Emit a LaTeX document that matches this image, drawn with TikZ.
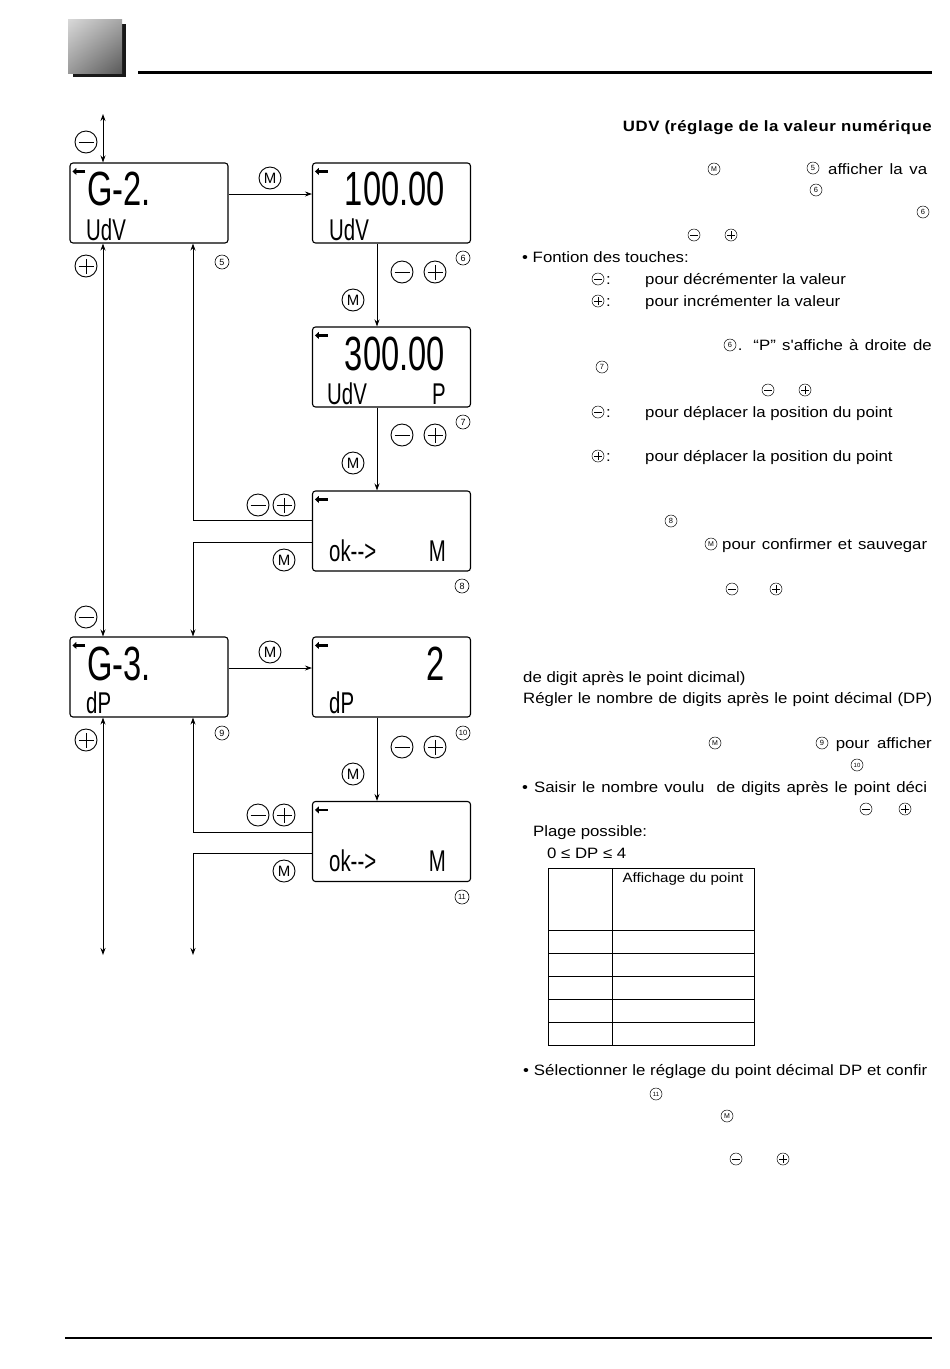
\documentclass[tikz,border=0pt]{standalone}
\usepackage{fontspec}
\setmainfont{Liberation Sans}
\newfontfamily\bodyfont{Liberation Sans}[FakeStretch=1.12]
\usetikzlibrary{arrows.meta,shadings}
\tikzset{
  lcd/.style={draw, line width=1.1pt, rounded corners=3pt, minimum width=158pt, minimum height=80pt, inner sep=0pt},
  conn/.style={line width=0.9pt},
  tip/.style={-{Stealth[length=7pt,width=5pt]}},
  both/.style={{Stealth[length=7pt,width=5pt]}-{Stealth[length=7pt,width=5pt]}},
  bigc/.style={circle, draw, line width=0.9pt, minimum size=22pt, inner sep=0pt},
  bigM/.style={bigc, font=\fontsize{15}{15}\selectfont},
  bigminus/.style={bigc, path picture={\draw[line width=0.9pt] ([xshift=-7.5pt]path picture bounding box.center) -- ([xshift=7.5pt]path picture bounding box.center);}},
  bigplus/.style={bigminus, path picture={\draw[line width=0.9pt] ([xshift=-7.5pt]path picture bounding box.center) -- ([xshift=7.5pt]path picture bounding box.center) ([yshift=-7.5pt]path picture bounding box.center) -- ([yshift=7.5pt]path picture bounding box.center);}},
  cnum/.style={circle, draw, line width=0.6pt, minimum size=14pt, inner sep=0pt, font=\fontsize{9}{9}\selectfont},
  snum/.style={circle, draw, line width=0.5pt, minimum size=12pt, inner sep=0pt, font=\fontsize{7.5}{7.5}\selectfont},
  sM/.style={snum},
  sminus/.style={circle, draw, line width=0.5pt, minimum size=12pt, inner sep=0pt, path picture={\draw[line width=0.5pt] ([xshift=-4pt]path picture bounding box.center) -- ([xshift=4pt]path picture bounding box.center);}},
  splus/.style={sminus, path picture={\draw[line width=0.5pt] ([xshift=-4pt]path picture bounding box.center) -- ([xshift=4pt]path picture bounding box.center) ([yshift=-4pt]path picture bounding box.center) -- ([yshift=4pt]path picture bounding box.center);}},
  txt/.style={inner sep=0pt, anchor=base west, font=\bodyfont\fontsize{15}{18}\selectfont},
  txtr/.style={txt, anchor=base east},
  lcdbig/.style={inner sep=0pt, font=\fontsize{48}{48}\selectfont},
  lcdsmall/.style={inner sep=0pt, font=\fontsize{30}{30}\selectfont},
  icon/.style={line width=2.4pt, -{Triangle[length=4pt,width=7pt]}},
}
\newcommand{\lcdt}[1]{\scalebox{0.68}[1]{#1}}
\begin{document}
\begin{tikzpicture}[x=1pt,y=-1pt]
\useasboundingbox (0,0) rectangle (950,1369);
\fill[white] (0,0) rectangle (950,1369);
% header
\fill[black!90] (73,24) rectangle (126,77);
\shade[upper left=black!15, upper right=black!35, lower left=black!40, lower right=black!65] (68,19) rectangle (122,73);
\draw[line width=3pt] (138,72) -- (932,72);
\draw[line width=2.6pt] (65,1338) -- (932,1338);

% LCD boxes
\node[lcd] (g2) at (149,203) {};
\node[lcd] (v1) at (391.5,203) {};
\node[lcd] (v3) at (391.5,367) {};
\node[lcd] (ok1) at (391.5,531) {};
\node[lcd] (g3) at (149,677) {};
\node[lcd] (d2) at (391.5,677) {};
\node[lcd] (ok2) at (391.5,841.5) {};

% icons
\foreach \b in {g2,v1,v3,ok1,g3,d2,ok2}
  \draw[icon] ([shift={(16,9)}]\b.north west) -- ([shift={(3,9)}]\b.north west);

% LCD texts
\node[lcdbig, anchor=base west] at (87,205) {\lcdt{G-2.}};
\node[lcdsmall, anchor=base west] at (86,240) {\lcdt{UdV}};
\node[lcdbig, anchor=base east] at (445,205) {\lcdt{100.00}};
\node[lcdsmall, anchor=base west] at (329,240) {\lcdt{UdV}};
\node[lcdbig, anchor=base east] at (445,370) {\lcdt{300.00}};
\node[lcdsmall, anchor=base west] at (327,404) {\lcdt{UdV}};
\node[lcdsmall, anchor=base east] at (446,404) {\lcdt{P}};
\node[lcdsmall, anchor=base west] at (329,561) {\lcdt{ok-{}-{}>}};
\node[lcdsmall, anchor=base east] at (446,561) {\lcdt{M}};
\node[lcdbig, anchor=base west] at (87,680) {\lcdt{G-3.}};
\node[lcdsmall, anchor=base west] at (86,713) {\lcdt{dP}};
\node[lcdbig, anchor=base east] at (445,680) {\lcdt{2}};
\node[lcdsmall, anchor=base west] at (329,713) {\lcdt{dP}};
\node[lcdsmall, anchor=base west] at (329,871) {\lcdt{ok-{}-{}>}};
\node[lcdsmall, anchor=base east] at (446,871) {\lcdt{M}};

% free ends
\coordinate (topend) at (103,114);
\coordinate (bot1) at (103,955);
\coordinate (bot2) at (193,955);
\coordinate (colA) at (193,0);
\coordinate (colB) at (103,0);
\coordinate (colC) at (377,0);

% connectors
\draw[conn,both] (topend) -- (g2.north -| colB);
\draw[conn,both] (g2.south -| colB) -- (g3.north -| colB);
\draw[conn,both] (g3.south -| colB) -- (bot1);
\draw[conn,tip] ([yshift=9pt]g2.east) -- ([yshift=9pt]v1.west);
\draw[conn,tip] ([yshift=9pt]g3.east) -- ([yshift=9pt]d2.west);
\draw[conn,tip] (v1.south -| colC) -- (v3.north -| colC);
\draw[conn,tip] (v3.south -| colC) -- (ok1.north -| colC);
\draw[conn,tip] (d2.south -| colC) -- (ok2.north -| colC);
\draw[conn,tip] ([yshift=11pt]ok1.west) -| (g2.south -| colA);
\draw[conn,tip] ([yshift=-11pt]ok1.west) -| (g3.north -| colA);
\draw[conn,tip] ([yshift=9.5pt]ok2.west) -| (g3.south -| colA);
\draw[conn,tip] ([yshift=-11.5pt]ok2.west) -| (bot2);

% diagram labels
\node[bigminus] (l1) at (86,142) {};
\node[bigplus] (l2) at (86,266) {};
\node[bigM] (l3) at (270,178) {M};
\node[cnum] (l4) at (222,262) {5};
\node[bigminus] (l5) at (402,272) {};
\node[bigplus] (l6) at (435,272) {};
\node[cnum] (l7) at (463,258) {6};
\node[bigM] (l8) at (353,300) {M};
\node[bigminus] (l9) at (402,435) {};
\node[bigplus] (l10) at (435,435) {};
\node[cnum] (l11) at (463,422) {7};
\node[bigM] (l12) at (353,463) {M};
\node[bigminus] (l13) at (258,505) {};
\node[bigplus] (l14) at (284,505) {};
\node[bigM] (l15) at (284,560) {M};
\node[cnum] (l16) at (462,586) {8};
\node[bigminus] (l17) at (86,617) {};
\node[bigplus] (l18) at (86,740) {};
\node[bigM] (l19) at (270,652) {M};
\node[cnum] (l20) at (222,733) {9};
\node[bigminus] (l21) at (402,747) {};
\node[bigplus] (l22) at (435,747) {};
\node[cnum, font=\fontsize{7.5}{7.5}\selectfont] (l23) at (463,733) {10};
\node[bigM] (l24) at (353,774) {M};
\node[bigminus] (l25) at (258,815) {};
\node[bigplus] (l26) at (284,815) {};
\node[bigM] (l27) at (284,871) {M};
\node[cnum, font=\fontsize{7.5}{7.5}\selectfont] (l28) at (462,897) {11};

% right text
\node[txtr, font=\bodyfont\fontsize{15}{18}\selectfont\bfseries] (t1) at (932,131) {\makebox[309pt][s]{U\kern0.6pt D\kern0.6pt V (r\kern0.6pt é\kern0.6pt g\kern0.6pt l\kern0.6pt a\kern0.6pt g\kern0.6pt e d\kern0.6pt e l\kern0.6pt a v\kern0.6pt a\kern0.6pt l\kern0.6pt e\kern0.6pt u\kern0.6pt r n\kern0.6pt u\kern0.6pt m\kern0.6pt é\kern0.6pt r\kern0.6pt i\kern0.6pt q\kern0.6pt u\kern0.6pt e}};
\node[sM, font=\fontsize{7}{7}\selectfont] (s1) at (714,169) {M};
\node[snum] (s2) at (813,168) {5};
\node[txt] (t2) at (828,174) {\makebox[99pt][s]{afficher la va}};
\node[snum] (s3) at (816,190) {6};
\node[snum] (s4) at (923,212) {6};
\node[sminus] (s5) at (694,235) {};
\node[splus] (s6) at (731,235) {};
\node[txt] (t3) at (522,262) {• Fontion des touches:};
\node[sminus] (s7) at (598,279) {};
\node[txt] (t4) at (606,284) {:};
\node[txt] (t5) at (645,284) {pour décrémenter la valeur};
\node[splus] (s8) at (598,301) {};
\node[txt] (t6) at (606,306) {:};
\node[txt] (t7) at (645,306) {pour incrémenter la valeur};
\node[snum] (s9) at (730,345) {6};
\node[txtr] (t8) at (932,350) {\makebox[194pt][s]{. “P” s'affiche à droite de}};
\node[snum] (s10) at (602,367) {7};
\node[sminus] (s11) at (768,390) {};
\node[splus] (s12) at (805,390) {};
\node[sminus] (s13) at (598,412) {};
\node[txt] (t9) at (606,417) {:};
\node[txt] (t10) at (645,417) {pour déplacer la position du point};
\node[splus] (s14) at (598,456) {};
\node[txt] (t11) at (606,461) {:};
\node[txt] (t12) at (645,461) {pour déplacer la position du point};
\node[snum] (s15) at (671,521) {8};
\node[sM, font=\fontsize{7}{7}\selectfont] (s16) at (711,544) {M};
\node[txt] (t13) at (722,549) {\makebox[205pt][s]{pour confirmer et sauvegar}};
\node[sminus] (s17) at (732,589) {};
\node[splus] (s18) at (776,589) {};
\node[txt] (t14) at (523,682) {de digit après le point dicimal)};
\node[txt] (t15) at (523,703) {\makebox[409pt][s]{Régler le nombre de digits après le point décimal (DP)}};
\node[sM, font=\fontsize{7}{7}\selectfont] (s19) at (715,743) {M};
\node[snum] (s20) at (822,743) {9};
\node[txtr] (t16) at (932,748) {\makebox[96pt][s]{pour afficher}};
\node[snum, font=\fontsize{6}{6}\selectfont] (s21) at (857,765) {10};
\node[txt] (t17) at (522,792) {\makebox[405pt][s]{• Saisir le nombre voulu \ de digits après le point déci}};
\node[sminus] (s22) at (866,809) {};
\node[splus] (s23) at (905,809) {};
\node[txt] (t18) at (533,836) {Plage possible:};
\node[txt] (t19) at (547,858) {0 ≤ DP ≤ 4};
% table
\draw[line width=0.8pt] (548,868) rectangle (754,1045);
\draw[line width=0.8pt] (612,868) -- (612,1045);
\foreach \yy in {930,953,976,999,1022} \draw[line width=0.8pt] (548,\yy) -- (754,\yy);
\node[inner sep=0pt, font=\bodyfont\fontsize{13.5}{16}\selectfont] (t20) at (683,879) {Affichage du point};
\node[txt] (t21) at (523,1075) {\makebox[404pt][s]{• Sélectionner le réglage du point décimal DP et confir}};
\node[snum, font=\fontsize{6}{6}\selectfont] (s24) at (656,1094) {11};
\node[sM, font=\fontsize{7}{7}\selectfont] (s25) at (727,1116) {M};
\node[sminus] (s26) at (736,1159) {};
\node[splus] (s27) at (783,1159) {};
\end{tikzpicture}
\end{document}
